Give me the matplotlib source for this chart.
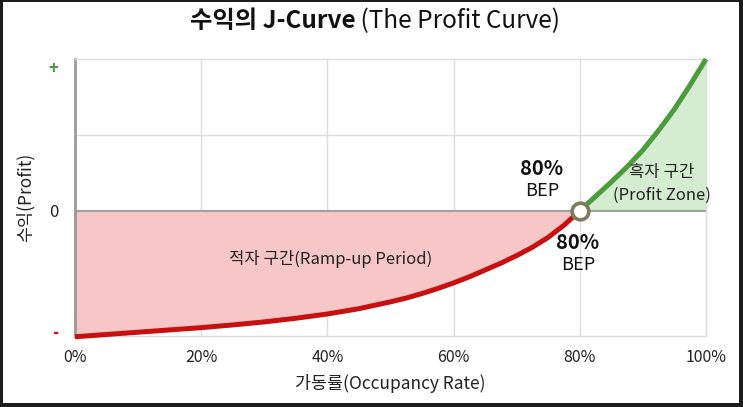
import matplotlib.pyplot as plt
from matplotlib.patches import Rectangle

plt.rcParams['font.family'] = ['Noto Sans CJK KR', 'DejaVu Sans']

# 가동률 (0~1) 과 수익 (상대값, 0 = 손익분기)
occupancy = [0.00, 0.05, 0.10, 0.15, 0.20, 0.25, 0.30, 0.35, 0.40, 0.45, 0.50,
             0.525, 0.55, 0.575, 0.60, 0.625, 0.65, 0.675, 0.70, 0.725, 0.75,
             0.775, 0.80]
profit_loss = [-0.83, -0.815, -0.80, -0.785, -0.77, -0.752, -0.732, -0.708, -0.68,
               -0.645, -0.60, -0.575, -0.545, -0.512, -0.475, -0.435, -0.39,
               -0.345, -0.295, -0.24, -0.175, -0.095, 0.0]
occupancy_gain = [0.80, 0.825, 0.85, 0.875, 0.90, 0.925, 0.95, 0.975, 1.00]
profit_gain = [0.0, 0.095, 0.19, 0.29, 0.40, 0.53, 0.67, 0.83, 1.00]
bep = 0.80
x_ticks = [0, 0.2, 0.4, 0.6, 0.8, 1.0]
x_ticklabels = ['0%', '20%', '40%', '60%', '80%', '100%']

red = '#c81010'
green = '#4c9c3e'

fig = plt.figure(figsize=(7.43, 4.07), dpi=100, facecolor='#1c1c1c')
fig.patches.append(Rectangle((3 / 743, 4 / 407), 736 / 743, 401 / 407,
                             transform=fig.transFigure, facecolor='white',
                             edgecolor='none', zorder=-10))
ax = fig.add_axes([75 / 743, 71 / 407, 631 / 743, 277 / 407])
ax.set_facecolor('white')

# 음영 영역
ax.fill_between(occupancy, profit_loss, 0, color='#f7c6c6', lw=0, zorder=1)
ax.fill_between(occupancy_gain, profit_gain, 0, color='#d4ecd0', lw=0, zorder=1)

# 그리드
for x in x_ticks[1:]:
    ax.axvline(x, color='#dddddd', lw=1, zorder=0.5)
ax.axhline(0.5, color='#dddddd', lw=1, zorder=0.5)
ax.axhline(0, color='#a0a0a0', lw=1.5, zorder=2)

# 곡선
ax.plot(occupancy, profit_loss, color=red, lw=3.6, solid_capstyle='butt',
        solid_joinstyle='round', zorder=3, clip_on=False)
ax.plot(occupancy_gain, profit_gain, color=green, lw=3.6, solid_capstyle='butt',
        solid_joinstyle='round', zorder=3, clip_on=False)
ax.plot([bep], [0], marker='o', ms=12, mfc='white', mec='#7d7d5c', mew=2.6, zorder=4, clip_on=False)

ax.set_xlim(0, 1.0)
ax.set_ylim(-0.825, 1.0)

ax.set_xticks(x_ticks)
ax.set_xticklabels(x_ticklabels, fontsize=11.5, color='#222222')
ax.set_yticks([0.95, 0, -0.79])
ax.set_yticklabels(['+', '0', '-'], fontsize=12)
ylabels = ax.get_yticklabels()
ylabels[0].set_color(green)
ylabels[0].set_fontweight('bold')
ylabels[1].set_color('#222222')
ylabels[2].set_color(red)
ylabels[2].set_fontweight('bold')
ax.tick_params(axis='both', length=0)
ax.tick_params(axis='x', pad=9)
ax.tick_params(axis='y', pad=12)

for side in ['top', 'right', 'bottom']:
    ax.spines[side].set_color('#dddddd')
    ax.spines[side].set_linewidth(1)
ax.spines['left'].set_color('#999999')
ax.spines['left'].set_linewidth(2)

ax.set_xlabel('가동률(Occupancy Rate)', fontsize=12.5, color='#222222', labelpad=6)
ax.set_ylabel('수익(Profit)', fontsize=12.5, color='#222222', labelpad=10)

# 주석
ax.text(0.74, 0.28, '80%', fontsize=14.5, fontweight='bold', ha='center', va='center', color='#111111')
ax.text(0.74, 0.13, 'BEP', fontsize=13, ha='center', va='center', color='#111111')
ax.text(0.797, -0.21, '80%', fontsize=14.5, fontweight='bold', ha='center', va='center', color='#111111')
ax.text(0.797, -0.36, 'BEP', fontsize=13, ha='center', va='center', color='#111111')
ax.text(0.93, 0.25, '흑자 구간', fontsize=12, ha='center', va='center', color='#222222')
ax.text(0.93, 0.105, '(Profit Zone)', fontsize=12, ha='center', va='center', color='#222222')
ax.text(0.405, -0.32, '적자 구간(Ramp-up Period)', fontsize=12, ha='center', va='center', color='#222222')

# 제목
fig.text(0.478, 0.948, '수익의 J-Curve', fontsize=17.5, fontweight='bold', ha='right', va='center', color='#111111')
fig.text(0.478, 0.948, ' (The Profit Curve)', fontsize=17.5, ha='left', va='center', color='#111111')

fig.savefig('out.png', dpi=100, facecolor=fig.get_facecolor())
